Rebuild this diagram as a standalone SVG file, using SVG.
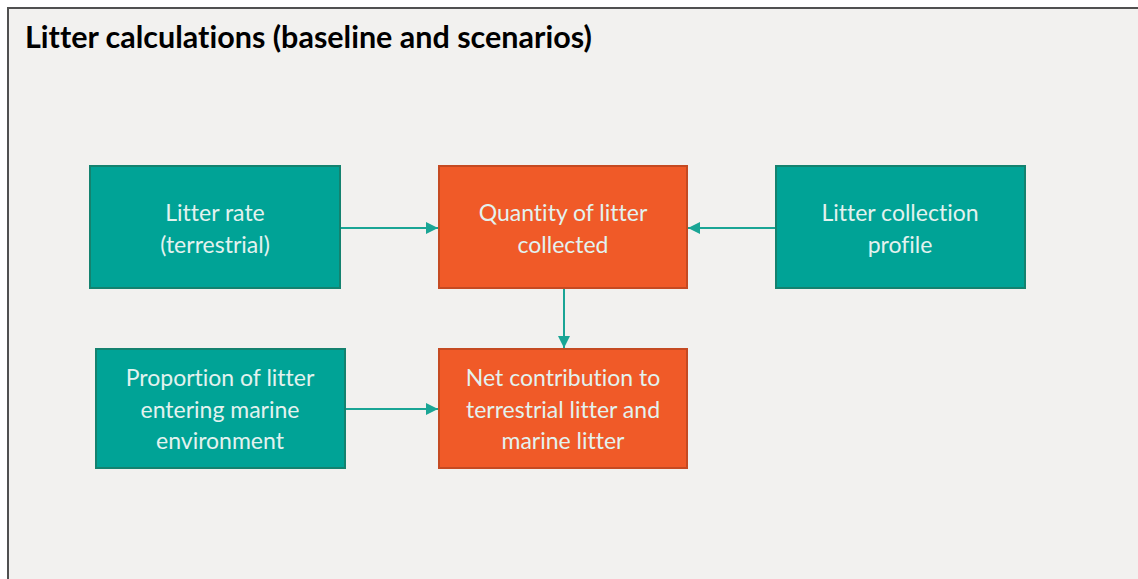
<svg xmlns="http://www.w3.org/2000/svg" width="1138" height="579" viewBox="0 0 1138 579">
<style>
text{font-variant-ligatures:none}
.t{font-family:Lato,"Liberation Sans",sans-serif;font-size:23px;fill:#E3F2EF;text-anchor:middle}
.teal{fill:#00A396;stroke:#14826F;stroke-width:2}
.orange{fill:#F05A28;stroke:#C54A22;stroke-width:2}
.c{stroke:#1AA595;stroke-width:2;fill:none}
</style>
<defs>
<marker id="ah" viewBox="0 0 12 12" refX="12" refY="6" markerWidth="12" markerHeight="12" markerUnits="userSpaceOnUse" orient="auto">
<path d="M0,0 L12,6 L0,12 Z" fill="#1AA595"/>
</marker>
</defs>
<rect x="0" y="0" width="1138" height="579" fill="#ffffff"/>
<rect x="8" y="8" width="1140" height="580" fill="#F2F1EF" stroke="#505050" stroke-width="2"/>
<text x="25" y="48" font-family="Lato,'Liberation Sans',sans-serif" font-weight="bold" font-size="30.5" fill="#000">Litter calculations (baseline and scenarios)</text>
<g id="connectors">
<line class="c" x1="341" y1="228" x2="438" y2="228" marker-end="url(#ah)"/>
<line class="c" x1="775" y1="228" x2="688" y2="228" marker-end="url(#ah)"/>
<line class="c" x1="564" y1="289" x2="564" y2="348" marker-end="url(#ah)"/>
<line class="c" x1="346" y1="409" x2="438" y2="409" marker-end="url(#ah)"/>
</g>
<g id="n1"><rect class="teal" x="90" y="166" width="250" height="122"/>
<text class="t" x="215" y="221">Litter rate</text><text class="t" x="215" y="253">(terrestrial)</text></g>
<g id="n2"><rect class="orange" x="439" y="166" width="248" height="122"/>
<text class="t" x="563" y="221">Quantity of litter</text><text class="t" x="563" y="253">collected</text></g>
<g id="n3"><rect class="teal" x="776" y="166" width="249" height="122"/>
<text class="t" x="900" y="221">Litter collection</text><text class="t" x="900" y="253">profile</text></g>
<g id="n4"><rect class="teal" x="96" y="349" width="249" height="119"/>
<text class="t" x="220" y="386">Proportion of litter</text><text class="t" x="220" y="418">entering marine</text><text class="t" x="220" y="449">environment</text></g>
<g id="n5"><rect class="orange" x="439" y="349" width="248" height="119"/>
<text class="t" x="563" y="386">Net contribution to</text><text class="t" x="563" y="418">terrestrial litter and</text><text class="t" x="563" y="449">marine litter</text></g>
</svg>
